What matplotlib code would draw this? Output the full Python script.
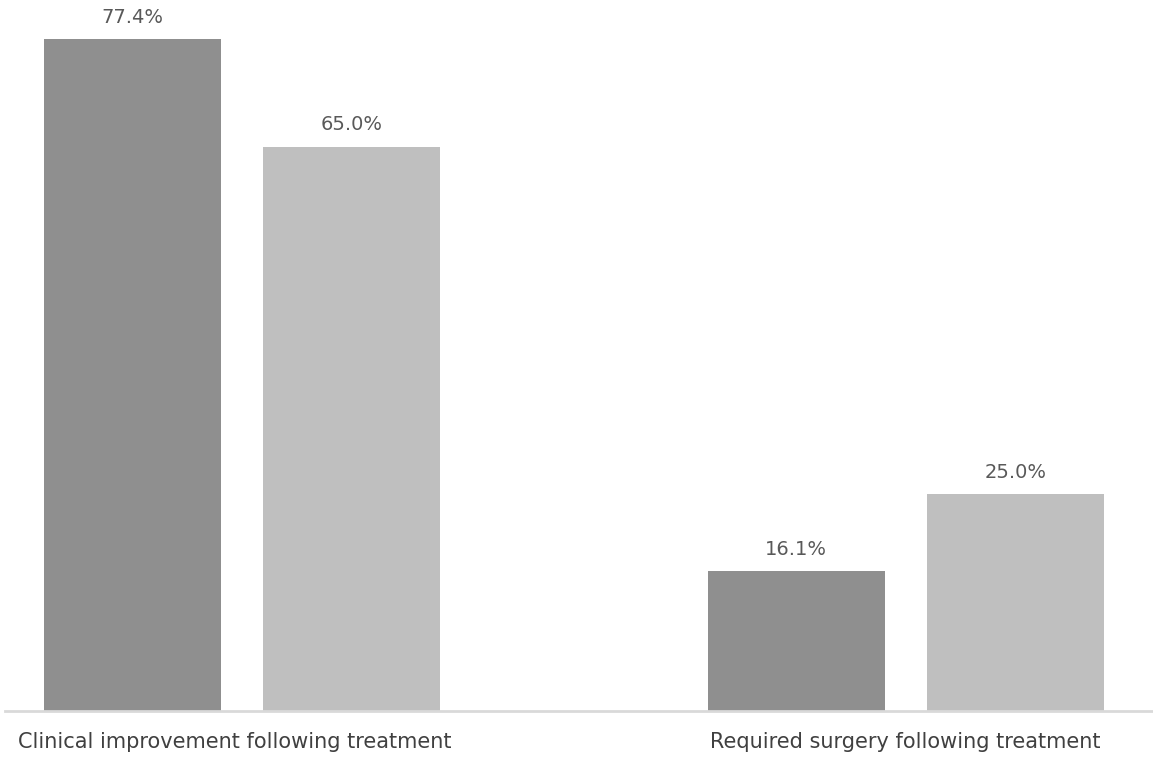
import matplotlib
matplotlib.use("Agg")
import matplotlib.pyplot as plt
import numpy as np

categories = ["Clinical improvement following treatment", "Required surgery following treatment"]
series_a = [77.4, 16.1]
series_b = [65.0, 25.0]
labels_a = ["77.4%", "16.1%"]
labels_b = ["65.0%", "25.0%"]

W, H = 1153, 759
fig = plt.figure(figsize=(W / 100, H / 100), dpi=100)
base_px = 711
ax = fig.add_axes([5 / W, (H - base_px) / H, (W - 5) / W, base_px / H])

px_per_unit = 664.0
bw = 177 / px_per_unit
off = 109.75 / px_per_unit
x = np.arange(len(categories))

ba = ax.bar(x - off, series_a, width=bw, color="#8f8f8f")
bb = ax.bar(x + off, series_b, width=bw, color="#bfbfbf")

ax.set_xlim((5 - 241.75) / px_per_unit, (W - 241.75) / px_per_unit)
ax.set_ylim(0, base_px / 8.68)

for bars, labs in ((ba, labels_a), (bb, labels_b)):
    for r, lab in zip(bars, labs):
        ax.annotate(lab, (r.get_x() + r.get_width() / 2, r.get_height()),
                    xytext=(0, 9), textcoords="offset points",
                    ha="center", va="bottom", fontsize=14, color="#595959",
                    family="DejaVu Sans")

for s in ["top", "right", "left"]:
    ax.spines[s].set_visible(False)
ax.spines["bottom"].set_color("#d9d9d9")
ax.spines["bottom"].set_linewidth(2)
ax.set_yticks([])
ax.set_xticks(x - np.array([0.01, 0.0]))
ax.set_xticklabels(categories, fontsize=15, color="#404040", family="DejaVu Sans")
ax.tick_params(axis="x", length=0, pad=15)

fig.savefig("out.png", dpi=100)
